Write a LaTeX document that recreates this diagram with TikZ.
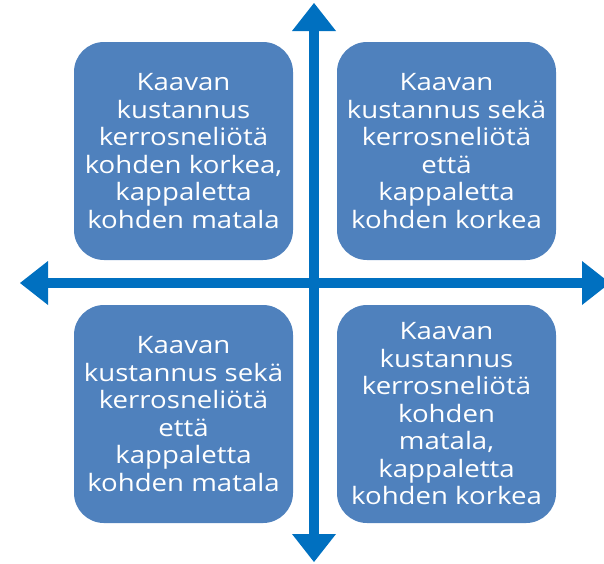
\documentclass[tikz,border=0pt]{standalone}
\usepackage{fontspec}
\setmainfont{Open Sans}[FakeStretch=1.15]
\usetikzlibrary{arrows.meta}
\definecolor{boxblue}{HTML}{4F81BD}
\definecolor{axisblue}{HTML}{0070C0}
\begin{document}
\begin{tikzpicture}[x=1pt,y=-1pt,
  quad/.style={fill=boxblue, rounded corners=30pt, minimum width=219pt, minimum height=218pt,
    inner sep=0pt, text=white, align=center, font=\fontsize{24}{27.5}\selectfont},
  axis/.style={draw=axisblue, line width=10pt,
    {Triangle[width=44pt,length=28pt,line width=0pt]}-{Triangle[width=44pt,length=28pt,line width=0pt]}}]
\useasboundingbox (0,0) rectangle (604,563);
\coordinate (top) at (314,3);
\coordinate (bottom) at (314,562);
\coordinate (left) at (20,283);
\coordinate (right) at (610,283);
\draw[axis] (top) -- (bottom);
\draw[axis] (left) -- (right);
\node[quad] (tl) at (183.5,151) {Kaavan\\kustannus\\kerrosneliötä\\kohden korkea,\\kappaletta\\kohden matala};
\node[quad] (tr) at (446.5,151) {Kaavan\\kustannus sekä\\kerrosneliötä\\että\\kappaletta\\kohden korkea};
\node[quad] (bl) at (183.5,414) {Kaavan\\kustannus sekä\\kerrosneliötä\\että\\kappaletta\\kohden matala};
\node[quad] (br) at (446.5,414) {Kaavan\\kustannus\\kerrosneliötä\\kohden\\matala,\\kappaletta\\kohden korkea};
\end{tikzpicture}
\end{document}
